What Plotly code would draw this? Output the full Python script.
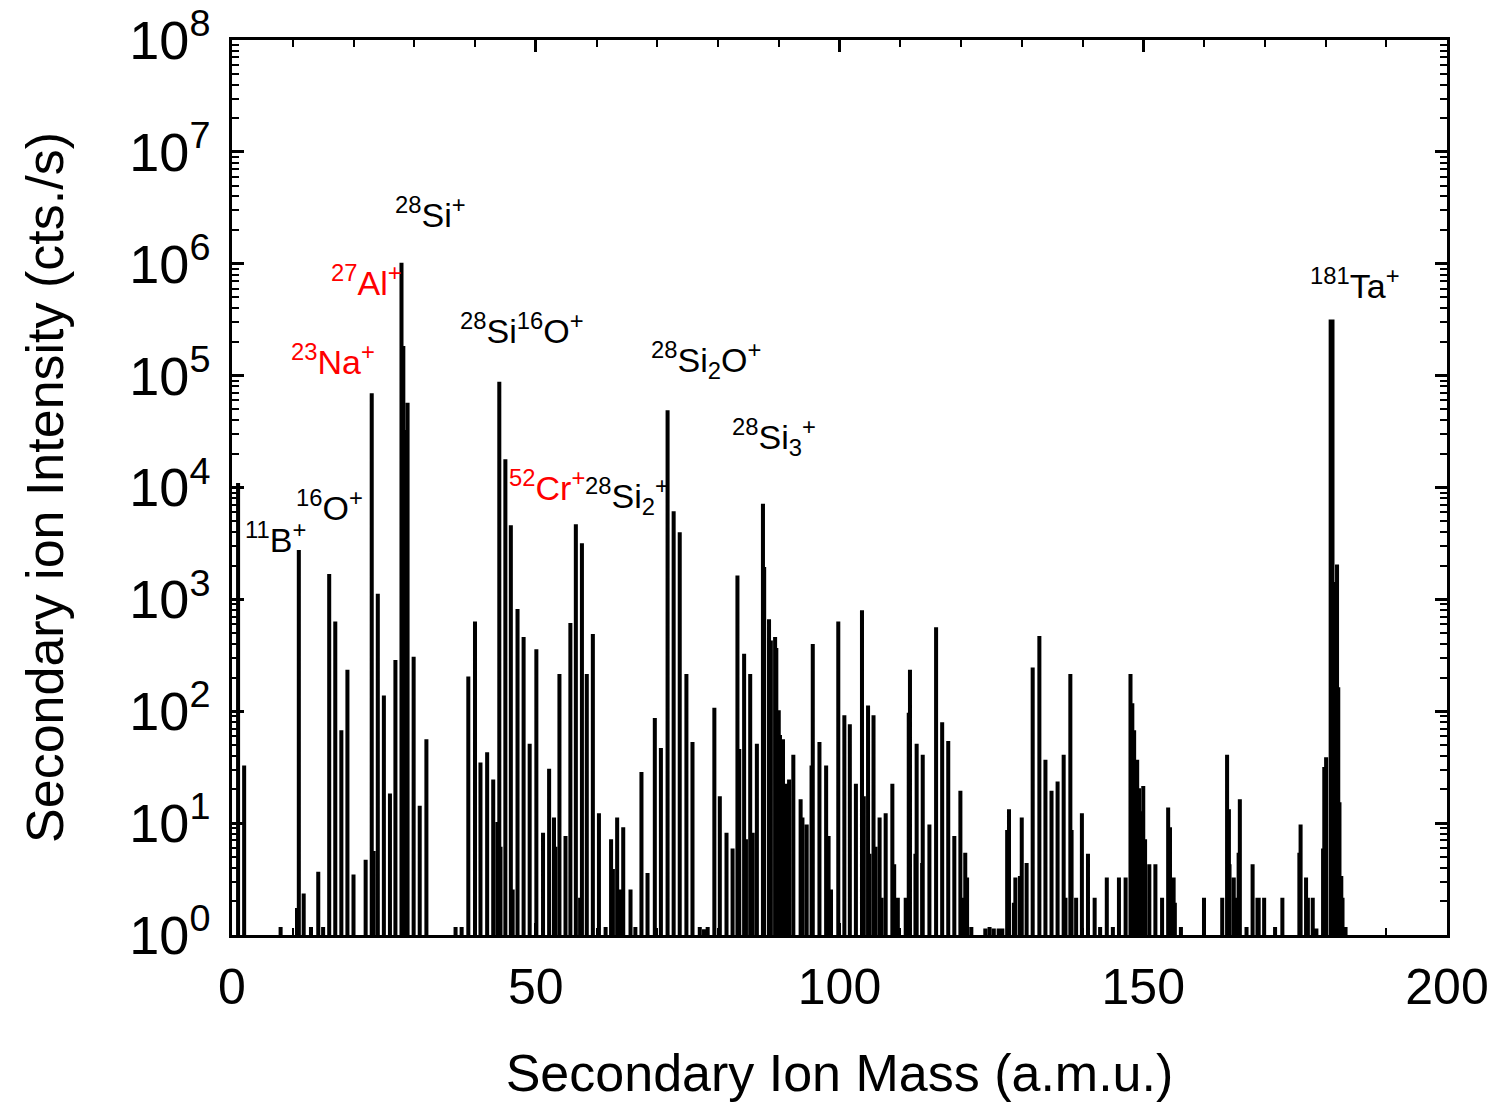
import plotly.graph_objects as go

# ---- Data: secondary ion mass spectrum (peak mass in a.m.u., intensity in cts./s) ----
masses = [
    1.0, 2.0, 8.0, 10.7, 11.0, 11.8, 13.0, 14.2, 15.0, 16.0, 17.0, 18.0, 19.0, 20.0, 22.0,
    23.0, 23.3, 24.0, 25.0, 26.0, 26.9, 27.9, 28.2, 28.4, 28.9, 29.9, 30.9, 32.0,
    36.8, 37.8, 38.9, 40.0, 40.9, 42.0, 43.0, 43.7, 44.0, 44.2, 45.0, 45.9, 46.2, 47.0,
    48.0, 49.0, 50.1, 51.2, 52.2, 53.0, 53.2, 53.9, 54.9,
    55.7, 56.6, 57.3, 57.6, 58.4, 59.4, 60.4, 61.5, 62.4, 62.7, 63.4, 63.8, 64.4, 65.6,
    66.4, 67.4, 68.4, 69.6, 70.6, 71.7, 72.7, 73.7, 74.8, 75.8, 77.0, 77.7, 78.3, 79.4, 80.3,
    81.4, 82.4, 83.2, 83.5, 84.3, 84.6, 85.3, 85.7, 86.4, 87.4, 87.6, 88.4, 88.7, 89.4,
    89.6, 89.8, 90.0, 90.2, 90.7, 91.3, 91.7, 92.4, 93.6, 93.9, 94.6, 95.4, 95.6, 96.7,
    97.8, 98.2, 98.6, 99.8, 100.8, 101.7, 102.7, 103.7, 104.0, 104.7, 104.9, 105.6, 105.9,
    106.6, 106.9, 107.6, 108.7, 109.0, 109.6, 110.9, 111.4, 111.6, 112.5, 112.7, 113.6,
    113.7, 114.8, 115.9, 116.9, 117.9, 118.9, 119.9, 120.3, 120.7, 121.0, 121.7, 124.0,
    124.7, 125.4, 126.2, 126.8, 127.6, 127.9, 128.7, 128.95, 129.7, 130.0, 130.8,
    131.8, 132.9, 133.9, 134.9, 135.9, 136.9, 137.2, 138.0, 138.2, 138.95, 139.9, 140.9,
    142.0, 142.9, 144.0, 145.0, 146.0, 147.1, 147.9, 148.2, 148.5, 149.0, 149.3, 149.4,
    150.0, 150.3, 151.0, 152.0, 153.1, 154.1, 154.4, 155.0, 155.2, 156.2,
    160.0, 163.0, 163.8, 164.1, 164.2, 164.9, 165.2, 165.7, 165.9, 167.0, 168.0, 168.8,
    169.0, 169.9, 171.7, 172.9, 175.7, 175.9, 176.8, 177.1, 177.9, 178.5, 179.6, 179.8,
    180.1, 180.85, 181.15, 181.7, 181.9, 182.1, 182.3, 182.6, 182.8, 183.3,
]
intensities = [
    1.07e4, 32, 1.15, 1.7, 2700, 2.3, 1.15, 3.6, 1.15, 1650, 620, 66, 230, 3.4, 4.6,
    6.8e4, 5.5, 1100, 135, 18, 280, 1.0e6, 1.8e5, 3.2e4, 5.6e4, 300, 14, 55,
    1.15, 1.15, 200, 620, 34, 42, 24, 10, 8.6e4, 6, 1.75e4, 4500, 2.5, 800,
    450, 50, 350, 8, 30, 11, 6, 210, 7.5,
    600, 4600, 2.1, 3100, 210, 480, 12, 1.15, 7, 3.8, 11, 2.5, 9, 2.5,
    1.15, 28, 3.5, 85, 46, 4.8e4, 6000, 3900, 210, 52, 1.15, 1.1, 1.15, 105, 17,
    8, 5.8, 1600, 45, 320, 7, 210, 8, 50, 7000, 1900, 650, 420, 450,
    360, 90, 100, 60, 55, 22, 24, 40, 16, 11, 9.5, 32, 390, 52,
    32, 7.5, 2.5, 620, 90, 75, 22, 780, 17, 110, 5.2, 90, 6,
    11, 2.1, 12, 22, 4.2, 2.1, 2.1, 95, 230, 5.2, 50, 4.3,
    40, 9.5, 550, 78, 53, 7.5, 19, 2.1, 5.3, 3.2, 1.15, 1.12,
    1.15, 1.12, 1.12, 1.12, 8.5, 13, 1.9, 3.2, 3.3, 11, 4.3,
    240, 460, 36, 19, 23, 40, 2.1, 210, 8.5, 2.1, 12, 5.2,
    2.1, 1.15, 3.2, 1.15, 3.2, 3.2, 210, 115, 66, 36, 20, 12.5,
    21, 7, 4.2, 4.2, 2.1, 13.5, 9, 3.2, 1.9, 1.15,
    2.1, 2.1, 40, 13, 4.2, 3.2, 2.1, 5.3, 16, 1.15, 4.2, 2.1,
    2.1, 2.1, 1.15, 2.1, 5.3, 9.5, 3.2, 2.1, 2.1, 1.12, 5.8, 31,
    38, 3.1e5, 3.1e5, 1400, 2000, 160, 15, 3.3, 2.1, 1.15,
]

x_ticks = [0, 50, 100, 150, 200]
y_exponents = [0, 1, 2, 3, 4, 5, 6, 7, 8]

# Peak labels
label_texts = ["<sup>11</sup>B<sup>+</sup>", "<sup>16</sup>O<sup>+</sup>", "<sup>23</sup>Na<sup>+</sup>",
               "<sup>27</sup>Al<sup>+</sup>", "<sup>28</sup>Si<sup>+</sup>",
               "<sup>28</sup>Si<sup>16</sup>O<sup>+</sup>", "<sup>52</sup>Cr<sup>+</sup>",
               "<sup>28</sup>Si<sub>2</sub><sup>+</sup>", "<sup>28</sup>Si<sub>2</sub>O<sup>+</sup>",
               "<sup>28</sup>Si<sub>3</sub><sup>+</sup>", "<sup>181</sup>Ta<sup>+</sup>"]
label_x = [7.1, 16.1, 16.6, 22.2, 32.6, 47.7, 51.8, 65.0, 78.0, 89.2, 184.9]
label_y = [3.55, 3.84, 5.14, 5.85, 6.46, 5.42, 4.02, 3.92, 5.14, 4.45, 5.82]
label_colors = ["black", "black", "red", "red", "black", "black", "red",
                "black", "black", "black", "black"]

# ---- Build spectrum line (narrow peaks rising from below the axis floor) ----
half_width = 0.15
floor_val = 0.5
pairs = sorted(zip(masses, intensities))
xs, ys = [], []
for m, v in pairs:
    xs += [m - half_width, m - half_width, m + half_width, m + half_width]
    ys += [floor_val, v, v, floor_val]

fig = go.Figure()
fig.add_trace(go.Scatter(
    x=xs, y=ys, mode="lines",
    line=dict(color="black", width=2.2, simplify=False),
    showlegend=False, hoverinfo="skip",
))

FONT = "Liberation Sans, Arial, sans-serif"

for t, ax_, ay_, c in zip(label_texts, label_x, label_y, label_colors):
    fig.add_annotation(x=ax_, y=ay_, text=t, showarrow=False,
                       font=dict(family=FONT, size=34, color=c),
                       xanchor="center", yanchor="middle")

minor_y = [k * 10 ** d for d in range(0, 8) for k in range(2, 10)]

fig.update_layout(
    width=1493, height=1102,
    margin=dict(l=232, r=46, t=40, b=167, autoexpand=False),
    paper_bgcolor="white", plot_bgcolor="white",
    font=dict(family=FONT, color="black"),
    xaxis=dict(
        range=[0, 200], tickvals=x_ticks, ticktext=[str(v) for v in x_ticks],
        showgrid=False, zeroline=False, automargin=False,
        showline=True, linecolor="black", linewidth=2.5, mirror="allticks",
        ticks="inside", ticklen=12, tickwidth=2.5, tickcolor="black",
        tickfont=dict(size=50, family=FONT), ticklabelstandoff=6,
        minor=dict(dtick=10, ticks="inside", ticklen=7, tickwidth=2, tickcolor="black", showgrid=False),
        title=dict(text="Secondary Ion Mass (a.m.u.)", font=dict(size=52, family=FONT), standoff=45),
    ),
    yaxis=dict(
        type="log", range=[0, 8],
        tickvals=[10 ** e for e in y_exponents],
        ticktext=["10<sup>%d</sup>" % e for e in y_exponents],
        showgrid=False, zeroline=False, automargin=False,
        showline=True, linecolor="black", linewidth=2.5, mirror="allticks",
        ticks="inside", ticklen=12, tickwidth=2.5, tickcolor="black",
        tickfont=dict(size=54, family=FONT), ticklabelstandoff=8,
        minor=dict(tickvals=minor_y, ticks="inside", ticklen=7, tickwidth=2, tickcolor="black", showgrid=False),
        title=dict(text="Secondary ion Intensity (cts./s)", font=dict(size=52, family=FONT), standoff=50),
    ),
)

fig.write_html("out.html")
